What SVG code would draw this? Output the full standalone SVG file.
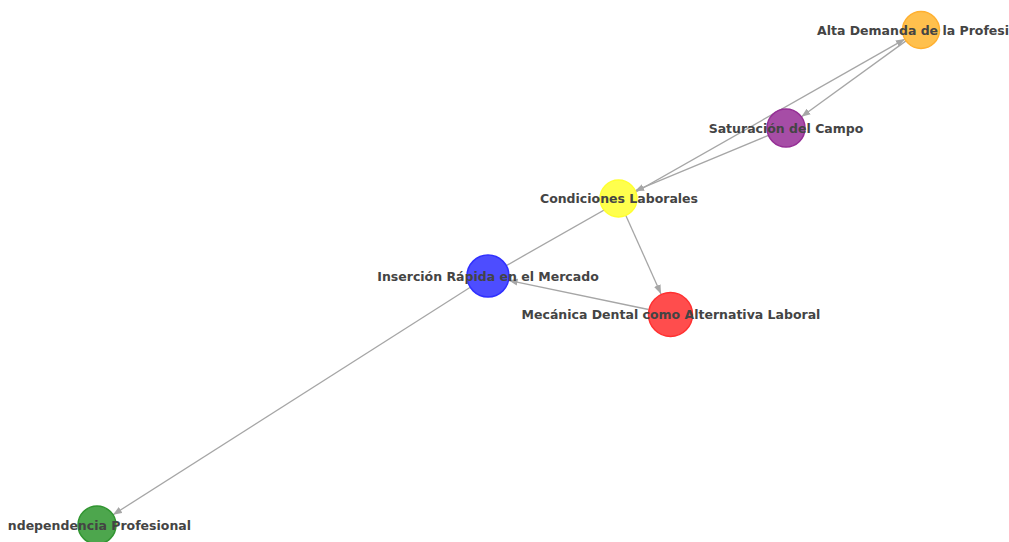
<svg xmlns="http://www.w3.org/2000/svg" width="1009" height="542" viewBox="0 0 1009 542">
<style>
.edge{stroke:#a6a6a6;stroke-width:1.3;fill:none}
.lbl{font-family:"DejaVu Sans",sans-serif;font-weight:bold;font-size:12.5px;fill:#444444;text-anchor:middle}
.node{stroke-width:1.5}
</style>
<defs>
<marker id="arr" markerUnits="userSpaceOnUse" markerWidth="10" markerHeight="8" refX="9" refY="3.5" orient="auto">
<path d="M0,0 L9,3.5 L0,7 z" fill="#a6a6a6"/>
</marker>
</defs>
<rect width="1009" height="542" fill="#ffffff"/>
<g id="connectors">
<line class="edge" x1="506.3" y1="265.6" x2="904.9" y2="39.1" marker-end="url(#arr)"/>
<line class="edge" x1="906" y1="40.9" x2="801.4" y2="116.8" marker-end="url(#arr)"/>
<line class="edge" x1="768.5" y1="135.3" x2="635" y2="190.9" marker-end="url(#arr)"/>
<line class="edge" x1="625.6" y1="214.9" x2="661" y2="293.9" marker-end="url(#arr)"/>
<line class="edge" x1="648.5" y1="309.5" x2="508.6" y2="280.3" marker-end="url(#arr)"/>
<line class="edge" x1="470.3" y1="287.3" x2="113" y2="514.8" marker-end="url(#arr)"/>
</g>
<g id="node-alta">
<circle class="node" cx="921" cy="30" r="18.5" fill="#ffc04d" stroke="#ffb030"/>
<text class="lbl" x="817" y="34.5" style="text-anchor:start">Alta Demanda de la Profesi</text>
</g>
<g id="node-saturacion">
<circle class="node" cx="786" cy="128" r="19" fill="#a64da6" stroke="#952e95"/>
<text class="lbl" x="786" y="132.5">Saturación del Campo</text>
</g>
<g id="node-condiciones">
<circle class="node" cx="618.5" cy="198.5" r="18.5" fill="#ffff4d" stroke="#ffff30"/>
<text class="lbl" x="619" y="203">Condiciones Laborales</text>
</g>
<g id="node-insercion">
<circle class="node" cx="488" cy="276" r="21" fill="#4d4dff" stroke="#3030ff"/>
<text class="lbl" x="488" y="280.5">Inserción Rápida en el Mercado</text>
</g>
<g id="node-mecanica">
<circle class="node" cx="670.5" cy="314.5" r="22" fill="#ff4d4d" stroke="#ff3030"/>
<text class="lbl" x="671" y="318.5">Mecánica Dental como Alternativa Laboral</text>
</g>
<g id="node-independencia">
<circle class="node" cx="97" cy="525" r="19" fill="#4da64d" stroke="#309530"/>
<text class="lbl" x="191" y="529.5" style="text-anchor:end">ndependencia Profesional</text>
</g>
</svg>
